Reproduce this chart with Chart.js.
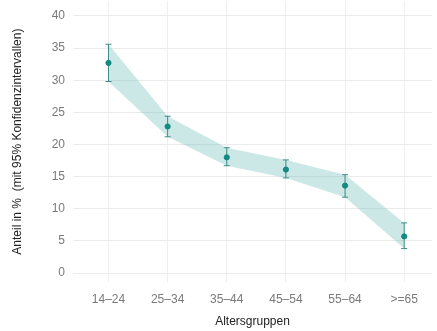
<!DOCTYPE html>
<html>
<head>
<meta charset="utf-8">
<script src="https://cdn.jsdelivr.net/npm/chart.js@4/dist/chart.umd.min.js"></script>
<style>
  html, body { margin: 0; padding: 0; background: #fff; overflow: hidden; }
  #wrap { width: 437px; height: 345px; margin-top: -14px; }
</style>
</head>
<body>
<div id="wrap"><canvas id="chart"></canvas></div>
<script>
// values
const ageGroups = ['14–24', '25–34', '35–44', '45–54', '55–64', '>=65'];
const estimate = [32.7, 22.8, 18.0, 16.1, 13.6, 5.7];
const lower = [29.8, 21.2, 16.7, 14.8, 11.8, 3.8];
const upper = [35.6, 24.4, 19.5, 17.6, 15.3, 7.8];
const yTicks = [0, 2.5, 5, 7.5, 10, 12.5, 15, 17.5, 20, 22.5, 25, 27.5, 30, 32.5, 35, 37.5, 40, 42.5];

const teal = '#138a82';
const font = "'Liberation Sans', Arial, sans-serif";

const toXY = arr => arr.map((v, i) => ({ x: i, y: v }));

// error bars with caps, drawn from the data through the scales
const errorBars = {
    id: 'errorBars',
    afterDatasetDraw(chart, args) {
        if (args.index !== 1) return;
        const { ctx, scales: { x, y } } = chart;
        ctx.save();
        ctx.strokeStyle = '#3b8d87';
        ctx.lineWidth = 1;
        estimate.forEach((_, i) => {
            const px = x.getPixelForValue(i);
            const top = y.getPixelForValue(upper[i]);
            const bot = y.getPixelForValue(lower[i]);
            ctx.beginPath();
            ctx.moveTo(px, top); ctx.lineTo(px, bot);
            ctx.moveTo(px - 3, top); ctx.lineTo(px + 3, top);
            ctx.moveTo(px - 3, bot); ctx.lineTo(px + 3, bot);
            ctx.stroke();
        });
        ctx.restore();
    }
};

new Chart(document.getElementById('chart'), {
    type: 'scatter',
    data: {
        datasets: [
            {
                label: 'Anteil',
                data: toXY(estimate),
                backgroundColor: teal,
                borderColor: teal,
                pointRadius: 2.6,
                showLine: false
            },
            {
                label: 'untere Grenze',
                data: toXY(lower),
                showLine: true,
                borderWidth: 0,
                pointRadius: 0,
                fill: false
            },
            {
                label: 'obere Grenze',
                data: toXY(upper),
                showLine: true,
                borderWidth: 0,
                pointRadius: 0,
                fill: '-1',
                backgroundColor: 'rgba(100, 184, 178, 0.33)'
            }
        ]
    },
    options: {
        responsive: true,
        maintainAspectRatio: false,
        animation: false,
        layout: { padding: 0 },
        plugins: {
            legend: { display: false },
            tooltip: { enabled: false }
        },
        scales: {
            x: {
                type: 'linear',
                min: -0.6,
                max: 5.47,
                afterBuildTicks: scale => { scale.ticks = ageGroups.map((_, i) => ({ value: i })); },
                afterFit: scale => { scale.height = 49; },
                grid: { color: '#efefef', drawTicks: false },
                border: { display: false },
                ticks: {
                    padding: 10,
                    color: '#7a7a7a',
                    font: { family: font, size: 12 },
                    callback: v => ageGroups[v]
                },
                title: {
                    display: true,
                    text: 'Altersgruppen',
                    color: '#222',
                    font: { family: font, size: 12 },
                    padding: { top: 0, bottom: 2 }
                }
            },
            y: {
                min: -1.4,
                max: 42.3,
                afterBuildTicks: scale => { scale.ticks = yTicks.map(v => ({ value: v })); },
                afterFit: scale => { scale.width = 73; },
                grid: {
                    drawTicks: false,
                    color: ctx => (ctx.tick && ctx.tick.value % 5 === 0) ? '#ebebeb' : '#f6f6f6'
                },
                border: { display: false },
                ticks: {
                    padding: 8,
                    color: '#7a7a7a',
                    font: { family: font, size: 12 },
                    callback: v => (v % 5 === 0 ? v : '')
                },
                title: {
                    display: true,
                    text: 'Anteil in %  (mit 95% Konfidenzintervallen)',
                    color: '#222',
                    font: { family: font, size: 12 },
                    padding: { top: 10, bottom: 0 }
                }
            }
        }
    },
    plugins: [errorBars]
});
</script>
</body>
</html>
